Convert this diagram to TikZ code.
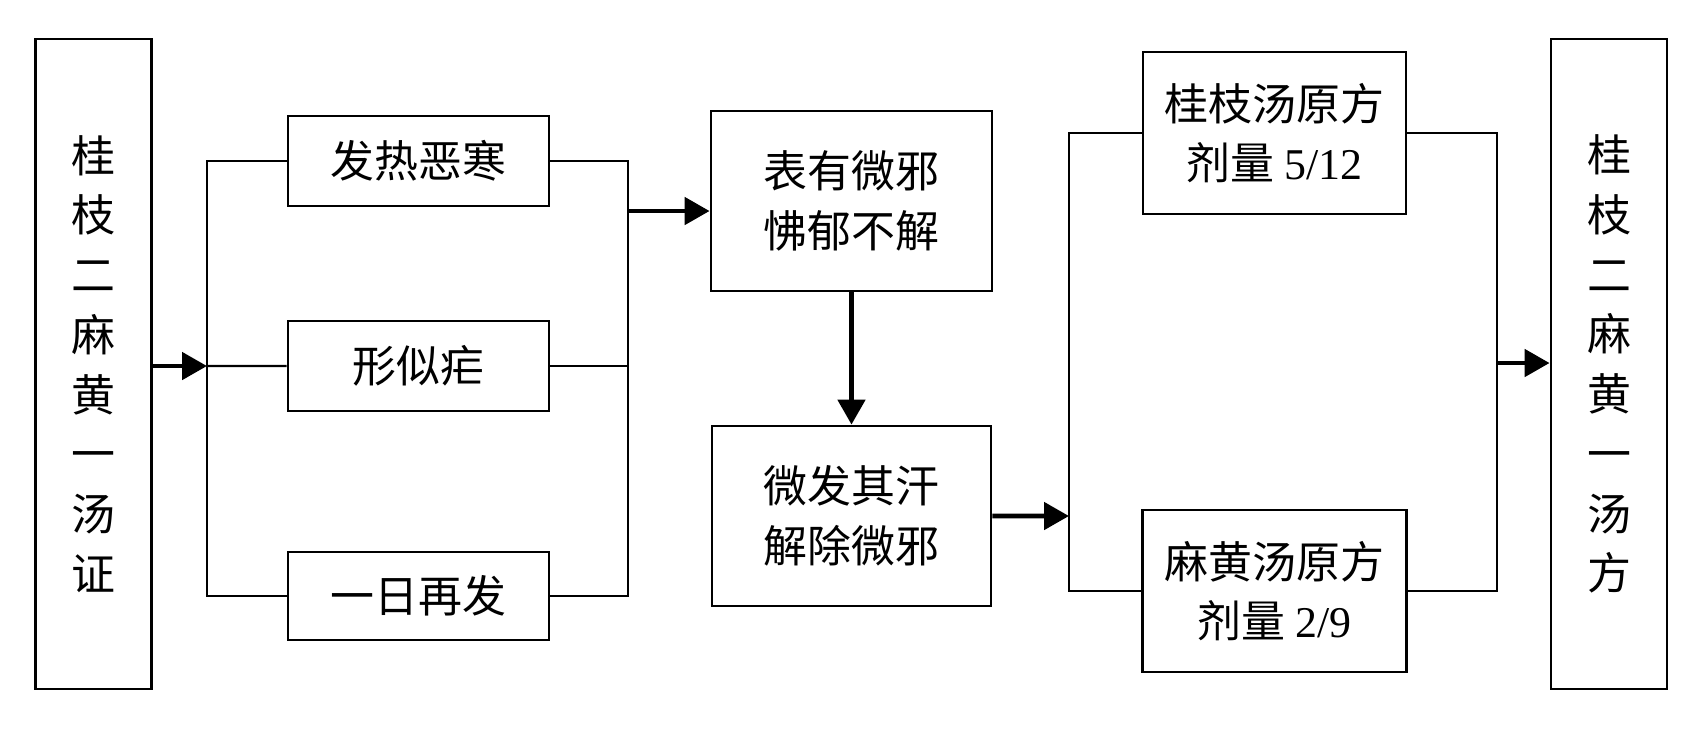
\documentclass[tikz,border=0pt]{standalone}
\usepackage{fontspec}
\setmainfont{Liberation Serif}
\newfontfamily\cjk{Noto Sans CJK SC}
\usetikzlibrary{arrows.meta}

\begin{document}
\begin{tikzpicture}[box/.style={draw,line width=0.8pt,inner sep=0pt,align=center,
                      minimum width=2.61cm,minimum height=0.9cm,
                      font={\cjk\fontsize{12.5}{17}\selectfont}},
                    tall box/.style={box,minimum width=1.16cm,minimum height=6.5cm},
                    line/.style={line width=0.6pt},
                    arrow/.style={line width=1.4pt,-{Triangle[length=0.25cm,width=0.27cm]}}]
  \useasboundingbox (0,0) rectangle (16.96,-7.29);

  \node[tall box] (L) at (0.935,-3.64) {桂\\枝\\二\\麻\\黄\\一\\汤\\证};
  \node[box] (s1) at (4.185,-1.61) {发热恶寒};
  \node[box] (s2) [below of=s1, node distance=2.05cm] {形似疟};
  \node[box,minimum height=0.88cm] (s3) [below of=s2, node distance=2.3cm] {一日再发};
  \node[box,minimum width=2.81cm,minimum height=1.8cm] (b1) at (8.515,-2.01) {表有微邪\\怫郁不解};
  \node[box,minimum width=2.79cm,minimum height=1.8cm] (b2) [below of=b1, node distance=3.15cm] {微发其汗\\解除微邪};
  \node[box,minimum width=2.63cm,minimum height=1.62cm] (g1) at (12.745,-1.33) {桂枝汤原方\\剂量 {\rmfamily 5/12}};
  \node[box,minimum width=2.64cm,minimum height=1.62cm] (g2) [below of=g1, node distance=4.58cm] {麻黄汤原方\\剂量 {\rmfamily 2/9}};
  \node[tall box] (R) at (16.09,-3.64) {桂\\枝\\二\\麻\\黄\\一\\汤\\方};

  \coordinate (jl) at (2.07,-3.66);
  \coordinate (jr) at (6.28,-2.11);
  \coordinate (jg) at (10.69,-5.16);
  \coordinate (jo) at (14.97,-3.63);

  \draw[line] (s1.west) -- (s1.west -| jl) -- (s3.west -| jl) -- (s3.west);
  \draw[line] (s2.west) -- (jl);
  \draw[arrow] (L.east |- jl) -- (jl);
  \draw[line] (s1.east) -- (s1.east -| jr) -- (s3.east -| jr) -- (s3.east);
  \draw[line] (s2.east) -- (s2.east -| jr);
  \draw[arrow] (jr) -- (jr -| b1.west);
  \draw[arrow] (b1.south) -- (b2.north);
  \draw[arrow] (b2.east) -- (jg);
  \draw[line] (g1.west) -- (g1.west -| jg) -- (g2.west -| jg) -- (g2.west);
  \draw[line] (g1.east) -- (g1.east -| jo) -- (g2.east -| jo) -- (g2.east);
  \draw[arrow] (jo) -- (jo -| R.west);
\end{tikzpicture}
\end{document}
